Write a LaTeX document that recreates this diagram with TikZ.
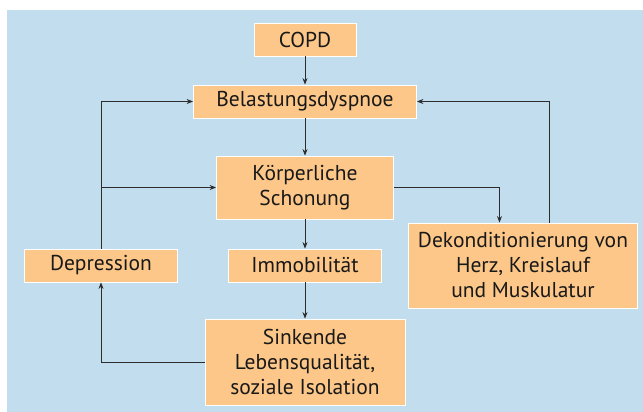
\documentclass[tikz,border=0pt]{standalone}
\usepackage{fontspec}
\setmainfont{PT Sans}
\usetikzlibrary{positioning,arrows.meta}
\definecolor{bgblue}{RGB}{194,222,238}
\definecolor{boxorange}{RGB}{252,199,136}
\definecolor{linegray}{RGB}{45,45,45}

\begin{document}
\begin{tikzpicture}[x=1pt,y=-1pt,node distance=70pt,on grid,
    box/.style={draw=white,line width=0.8pt,fill=boxorange,inner sep=0pt,
      align=center,font=\fontsize{21.5}{25}\selectfont,text=black!90},
    link/.style={draw=linegray,line width=0.8pt,-{Stealth[length=6.5pt,width=5pt]}}]
    \useasboundingbox (0,0) rectangle (643,412);
    \fill[bgblue] (7,10) rectangle (643,412);
    \node[box,minimum width=102pt,minimum height=33pt] (copd) at (305,39.5) {COPD};
    \node[box,minimum width=223pt,minimum height=33pt] (belast) [below = 62pt of copd] {Belastungsdyspnoe};
    \node[box,minimum width=177pt,minimum height=63pt] (schon) [below = 86pt of belast] {Körperliche\\Schonung};
    \node[box,minimum width=153pt,minimum height=33pt] (immob) [below = 78pt of schon] {Immobilität};
    \node[box,minimum width=200pt,minimum height=86pt] (sink) [below = 96.5pt of immob] {Sinkende\\Lebensqualität,\\soziale Isolation};
    \node[box,minimum width=153pt,minimum height=33pt] (depr) [left = 204pt of immob] {Depression};
    \node[box,minimum width=229pt,minimum height=85pt] (dekon) [right = 218pt of immob] {Dekonditionierung von\\Herz, Kreislauf\\und Muskulatur};
    \coordinate (dkin) at ([xshift=-23.5pt]dekon.north);
    \coordinate (dkout) at ([xshift=26.5pt]dekon.north);
    \path[link]
    (copd) edge (belast)
    (belast) edge (schon)
    (schon) edge (immob)
    (immob) edge (sink)
    ;
    \draw[link] (sink.west) -| (depr.south);
    \draw[link] (depr.north) |- (belast.west);
    \draw[link] (depr.north) |- (schon.west);
    \draw[link] (schon.east) -| (dkin);
    \draw[link] (dkout) |- (belast.east);
  \end{tikzpicture}
\end{document}
